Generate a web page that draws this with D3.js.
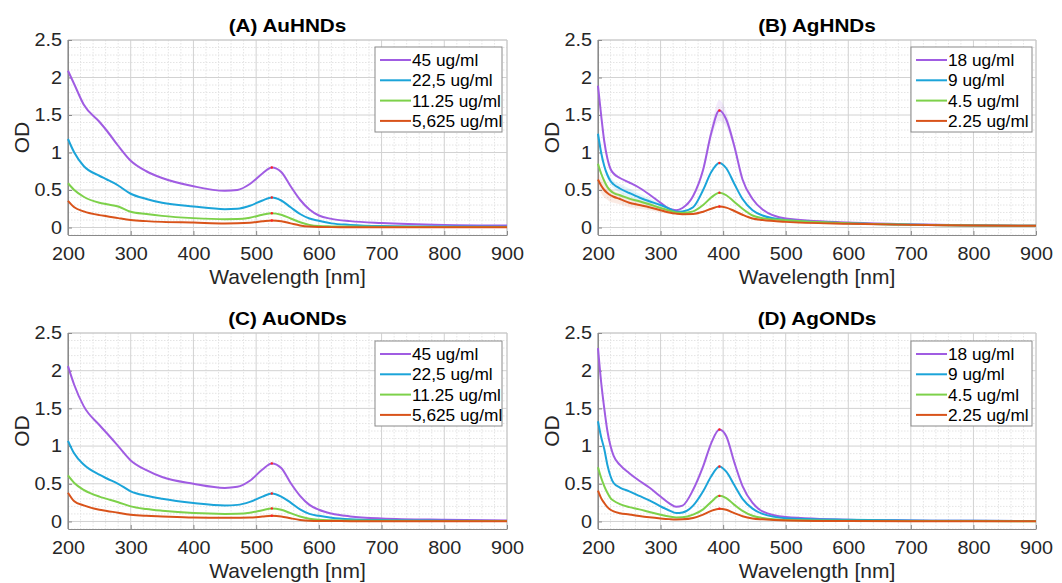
<!DOCTYPE html>
<html>
<head>
<meta charset="utf-8">
<script src="https://cdn.jsdelivr.net/npm/d3@7"></script>
<style>
  body { margin: 0; background: #fff; }
  svg { display: block; font-family: "Liberation Sans", Arial, sans-serif; }
  .tick-lbl { font-size: 18px; fill: #262626; }
  .ax-lbl { font-size: 20px; fill: #262626; }
  .od-lbl { font-size: 21px; fill: #262626; }
  .title { font-size: 18px; font-weight: bold; fill: #000; }
  .leg-txt { font-size: 16px; fill: #000; }
</style>
</head>
<body>
<svg id="chart" width="1062" height="583"></svg>
<script>
// wavelength grids (nm)
const WL_AU = [200, 210, 225, 250, 262, 280, 300, 325, 350, 400, 450, 470, 490, 510, 525, 540, 555, 570, 585, 600, 620, 650, 700, 800, 900];
const WL_AG = [200, 205, 210, 215, 220, 225, 235, 250, 266, 282, 300, 314, 325, 335, 352, 368, 381, 394, 405, 418, 431, 447, 463, 500, 600, 700, 800, 900];

// (A) AuHNDs
const A_45 = [2.09, 1.91, 1.64, 1.41, 1.29, 1.09, 0.89, 0.75, 0.66, 0.55, 0.49, 0.50, 0.58, 0.72, 0.80, 0.74, 0.55, 0.37, 0.24, 0.16, 0.115, 0.085, 0.06, 0.035, 0.027];
const A_22 = [1.18, 1.00, 0.82, 0.69, 0.64, 0.56, 0.45, 0.38, 0.33, 0.28, 0.245, 0.25, 0.29, 0.36, 0.40, 0.36, 0.27, 0.18, 0.12, 0.09, 0.055, 0.035, 0.02, 0.012, 0.01];
const A_11 = [0.59, 0.50, 0.41, 0.33, 0.31, 0.28, 0.21, 0.18, 0.155, 0.125, 0.11, 0.112, 0.13, 0.17, 0.19, 0.17, 0.12, 0.07, 0.035, 0.02, 0.015, 0.012, 0.01, 0.008, 0.007];
const A_5  = [0.355, 0.27, 0.215, 0.165, 0.15, 0.125, 0.10, 0.085, 0.075, 0.066, 0.055, 0.056, 0.063, 0.082, 0.093, 0.083, 0.055, 0.028, 0.012, 0.006, 0.005, 0.005, 0.005, 0.005, 0.005];

// (B) AgHNDs
const B_18 = [1.89, 1.50, 1.15, 0.92, 0.78, 0.72, 0.66, 0.60, 0.53, 0.44, 0.33, 0.25, 0.23, 0.26, 0.42, 0.77, 1.26, 1.56, 1.44, 1.08, 0.64, 0.38, 0.24, 0.12, 0.066, 0.044, 0.03, 0.022];
const B_9  = [1.25, 1.00, 0.82, 0.70, 0.62, 0.575, 0.52, 0.46, 0.40, 0.35, 0.30, 0.25, 0.21, 0.215, 0.27, 0.50, 0.74, 0.86, 0.79, 0.58, 0.38, 0.23, 0.16, 0.10, 0.057, 0.038, 0.028, 0.022];
const B_4  = [0.85, 0.72, 0.62, 0.54, 0.49, 0.46, 0.43, 0.385, 0.35, 0.31, 0.26, 0.225, 0.20, 0.195, 0.215, 0.30, 0.40, 0.465, 0.43, 0.34, 0.25, 0.16, 0.125, 0.097, 0.057, 0.038, 0.028, 0.022];
const B_2  = [0.64, 0.56, 0.50, 0.46, 0.43, 0.41, 0.38, 0.33, 0.30, 0.27, 0.23, 0.20, 0.185, 0.178, 0.18, 0.21, 0.25, 0.28, 0.265, 0.22, 0.17, 0.12, 0.10, 0.075, 0.049, 0.035, 0.027, 0.022];
// spread (shaded band half-width) in panel B
const B_18_SD = [0.02, 0.02, 0.02, 0.02, 0.02, 0.02, 0.01, 0.01, 0.01, 0.01, 0.01, 0.01, 0.01, 0.01, 0.02, 0.04, 0.08, 0.14, 0.10, 0.05, 0.02, 0.01, 0.01, 0.01, 0, 0, 0, 0];
const B_9_SD  = [0.03, 0.03, 0.04, 0.04, 0.05, 0.05, 0.06, 0.06, 0.05, 0.04, 0.02, 0.01, 0.01, 0.01, 0.01, 0.01, 0.01, 0.01, 0.01, 0.01, 0.01, 0.01, 0.01, 0, 0, 0, 0, 0];
const B_4_SD  = [0.03, 0.03, 0.03, 0.03, 0.02, 0.02, 0.02, 0.02, 0.02, 0.02, 0.01, 0.01, 0.01, 0.01, 0.01, 0.01, 0.01, 0.01, 0.01, 0.01, 0.01, 0.01, 0.01, 0, 0, 0, 0, 0];
const B_2_SD  = [0.10, 0.10, 0.10, 0.09, 0.09, 0.08, 0.07, 0.06, 0.05, 0.04, 0.03, 0.02, 0.015, 0.01, 0.01, 0.01, 0.01, 0.01, 0.01, 0.01, 0.01, 0.01, 0.01, 0.01, 0, 0, 0, 0];

// (C) AuONDs
const C_45 = [2.06, 1.81, 1.53, 1.28, 1.17, 1.00, 0.81, 0.68, 0.59, 0.50, 0.445, 0.46, 0.54, 0.69, 0.77, 0.71, 0.51, 0.34, 0.22, 0.155, 0.105, 0.067, 0.04, 0.022, 0.013];
const C_22 = [1.07, 0.90, 0.755, 0.62, 0.57, 0.50, 0.40, 0.34, 0.30, 0.245, 0.213, 0.22, 0.26, 0.33, 0.37, 0.33, 0.25, 0.16, 0.10, 0.075, 0.05, 0.03, 0.018, 0.01, 0.005];
const C_11 = [0.61, 0.51, 0.42, 0.33, 0.30, 0.255, 0.20, 0.165, 0.142, 0.111, 0.10, 0.102, 0.115, 0.15, 0.173, 0.155, 0.11, 0.065, 0.035, 0.022, 0.016, 0.012, 0.01, 0.007, 0.005];
const C_5  = [0.38, 0.267, 0.213, 0.155, 0.14, 0.115, 0.09, 0.075, 0.067, 0.053, 0.049, 0.05, 0.052, 0.065, 0.075, 0.067, 0.042, 0.02, 0.008, 0.005, 0.005, 0.004, 0.004, 0.004, 0.004];

// (D) AgONDs
const D_18 = [2.30, 1.85, 1.50, 1.20, 1.00, 0.87, 0.75, 0.64, 0.54, 0.45, 0.33, 0.24, 0.195, 0.21, 0.42, 0.73, 1.04, 1.22, 1.13, 0.78, 0.47, 0.245, 0.133, 0.058, 0.022, 0.013, 0.008, 0.005];
const D_9  = [1.33, 1.12, 0.96, 0.75, 0.60, 0.51, 0.45, 0.40, 0.34, 0.28, 0.20, 0.145, 0.111, 0.118, 0.21, 0.40, 0.60, 0.73, 0.66, 0.48, 0.30, 0.17, 0.10, 0.044, 0.022, 0.012, 0.008, 0.005];
const D_4  = [0.72, 0.58, 0.47, 0.38, 0.31, 0.275, 0.23, 0.19, 0.16, 0.125, 0.089, 0.065, 0.053, 0.055, 0.09, 0.16, 0.26, 0.34, 0.31, 0.22, 0.14, 0.075, 0.045, 0.018, 0.009, 0.006, 0.005, 0.004];
const D_2  = [0.41, 0.31, 0.245, 0.19, 0.155, 0.133, 0.11, 0.093, 0.072, 0.055, 0.04, 0.031, 0.027, 0.028, 0.045, 0.09, 0.14, 0.17, 0.155, 0.11, 0.07, 0.04, 0.028, 0.013, 0.005, 0.004, 0.004, 0.004];

const AU_LABELS = ["45 ug/ml", "22,5 ug/ml", "11.25 ug/ml", "5,625 ug/ml"];
const AG_LABELS = ["18 ug/ml", "9 ug/ml", "4.5 ug/ml", "2.25 ug/ml"];
const X_TICKS = [200, 300, 400, 500, 600, 700, 800, 900];
const Y_TICKS = [0, 0.5, 1, 1.5, 2, 2.5];
const Y_TICK_TXT = ["0", "0.5", "1", "1.5", "2", "2.5"];
const COLORS = ["#a05ce2", "#1ba4d9", "#7dd14a", "#d9531a"];

const panels = [
  { title: "(A) AuHNDs", x: 68,  y: 40,  w: 439, h: 195, wl: WL_AU, series: [A_45, A_22, A_11, A_5], labels: AU_LABELS, leg: [375, 47, 127], peak: [480, 560] },
  { title: "(B) AgHNDs", x: 598, y: 40,  w: 438, h: 195, wl: WL_AG, series: [B_18, B_9, B_4, B_2], sd: [B_18_SD, B_9_SD, B_4_SD, B_2_SD], labels: AG_LABELS, leg: [911, 47, 121], peak: [360, 430] },
  { title: "(C) AuONDs", x: 68,  y: 333, w: 439, h: 196, wl: WL_AU, series: [C_45, C_22, C_11, C_5], labels: AU_LABELS, leg: [375, 341, 127], peak: [480, 560] },
  { title: "(D) AgONDs", x: 598, y: 333, w: 438, h: 196, wl: WL_AG, series: [D_18, D_9, D_4, D_2], labels: AG_LABELS, leg: [911, 341, 121], peak: [360, 430] }
];

const TICK_SX = 1.1, TITLE_SX = 1.15, LEG_SX = 1.08, XLBL_SX = 1.05;
const svg = d3.select("#chart");

panels.forEach(p => {
  const g = svg.append("g").attr("transform", `translate(${p.x},${p.y})`);
  const x = d3.scaleLinear().domain([200, 900]).range([0, p.w]);
  const y = d3.scaleLinear().domain([-0.1, 2.5]).range([p.h, 0]);

  // minor grid
  const minorX = d3.range(220, 900, 20).filter(v => v % 100 !== 0);
  const minorY = d3.range(-0.1, 2.5001, 0.1).map(v => +v.toFixed(2)).filter(v => Math.abs(v * 2 - Math.round(v * 2)) > 0.01);
  g.selectAll(".mx").data(minorX).join("line")
    .attr("x1", d => x(d)).attr("x2", d => x(d)).attr("y1", 0).attr("y2", p.h)
    .attr("stroke", "#e4e4e4").attr("stroke-dasharray", "1.5,1.5");
  g.selectAll(".my").data(minorY).join("line")
    .attr("y1", d => y(d)).attr("y2", d => y(d)).attr("x1", 0).attr("x2", p.w)
    .attr("stroke", "#e4e4e4").attr("stroke-dasharray", "1.5,1.5");
  // major grid
  g.selectAll(".gx").data(X_TICKS).join("line")
    .attr("x1", d => x(d)).attr("x2", d => x(d)).attr("y1", 0).attr("y2", p.h)
    .attr("stroke", "#d2d2d2");
  g.selectAll(".gy").data(Y_TICKS).join("line")
    .attr("y1", d => y(d)).attr("y2", d => y(d)).attr("x1", 0).attr("x2", p.w)
    .attr("stroke", "#d2d2d2");

  // box
  g.append("line").attr("x1", 0).attr("x2", p.w).attr("y1", 0).attr("y2", 0).attr("stroke", "#c8c8c8");
  g.append("line").attr("x1", p.w).attr("x2", p.w).attr("y1", 0).attr("y2", p.h).attr("stroke", "#c8c8c8");

  // axes
  const xAxis = d3.axisBottom(x).tickValues(X_TICKS).tickSizeInner(-4).tickSizeOuter(0).tickPadding(12);
  const gxA = g.append("g").attr("transform", `translate(0,${p.h})`).call(xAxis);
  const yAxis = d3.axisLeft(y).tickValues(Y_TICKS).tickFormat((d, i) => Y_TICK_TXT[i]).tickSizeInner(-4).tickSizeOuter(0).tickPadding(6);
  const gyA = g.append("g").call(yAxis);
  [gxA, gyA].forEach(a => {
    a.attr("font-size", null).attr("font-family", null);
    a.select(".domain").attr("stroke", "#8a8a8a");
    a.selectAll(".tick line").attr("stroke", "#8a8a8a");
    a.selectAll(".tick text").attr("class", "tick-lbl").attr("transform", `scale(${TICK_SX},1)`);
  });
  gyA.selectAll(".tick text").attr("x", -6 / TICK_SX);
  gyA.append("line").attr("x1", 0).attr("x2", 0).attr("y1", 0).attr("y2", p.h).attr("stroke", "#8a8a8a");

  // shaded bands
  if (p.sd) {
    p.series.forEach((s, i) => {
      const area = d3.area().curve(d3.curveMonotoneX)
        .x((d, j) => x(p.wl[j]))
        .y0((d, j) => y(s[j] - p.sd[i][j]))
        .y1((d, j) => y(s[j] + p.sd[i][j]));
      g.append("path").datum(s).attr("d", area).attr("fill", COLORS[i]).attr("fill-opacity", 0.12);
    });
  }

  // lines
  const line = d3.line().curve(d3.curveMonotoneX).x((d, j) => x(p.wl[j])).y(d => y(d));
  p.series.forEach((s, i) => {
    g.append("path").datum(s).attr("d", line).attr("fill", "none")
      .attr("stroke", COLORS[i]).attr("stroke-width", 2);
    // peak marker
    let best = -1;
    p.wl.forEach((w, j) => { if (w >= p.peak[0] && w <= p.peak[1] && (best < 0 || s[j] > s[best])) best = j; });
    g.append("circle").attr("cx", x(p.wl[best])).attr("cy", y(s[best])).attr("r", 1.2).attr("fill", "#ff2020");
  });

  // labels
  g.append("text").attr("class", "title").attr("text-anchor", "middle")
    .attr("transform", `translate(${p.w / 2},-8) scale(${TITLE_SX},1)`).text(p.title);
  g.append("text").attr("class", "ax-lbl").attr("text-anchor", "middle")
    .attr("transform", `translate(${p.w / 2},${p.h + 49}) scale(${XLBL_SX},1)`).text("Wavelength [nm]");
  g.append("text").attr("class", "od-lbl").attr("transform", `translate(-39,${p.h / 2}) rotate(-90)`)
    .attr("text-anchor", "middle").text("OD");

  // legend
  const [lx, ly, lw] = p.leg;
  const lg = svg.append("g").attr("transform", `translate(${lx},${ly})`);
  lg.append("rect").attr("width", lw).attr("height", 85).attr("fill", "#fff").attr("stroke", "#8a8a8a");
  p.labels.forEach((t, i) => {
    const cy = 13 + i * 20.3;
    lg.append("line").attr("x1", 5).attr("x2", 36).attr("y1", cy).attr("y2", cy).attr("stroke", COLORS[i]).attr("stroke-width", 2);
    lg.append("text").attr("class", "leg-txt").attr("transform", `translate(37,${cy + 6}) scale(${LEG_SX},1)`).text(t);
  });
});
</script>
</body>
</html>
